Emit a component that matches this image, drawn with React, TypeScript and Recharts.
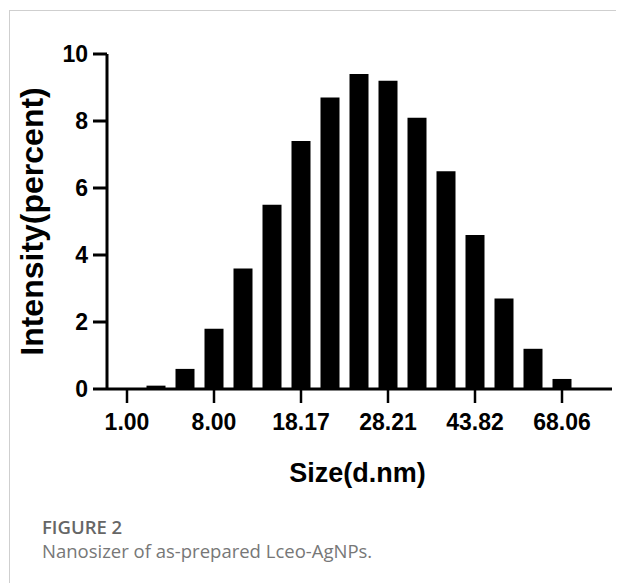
import React from 'react';
import { BarChart, Bar, XAxis, YAxis } from 'recharts';

// intensity (%) per size bin
const intensity = [0, 0.1, 0.6, 1.8, 3.6, 5.5, 7.4, 8.7, 9.4, 9.2, 8.1, 6.5, 4.6, 2.7, 1.2, 0.3];
// labelled bins (every third bin)
const sizeTicks = ['1.00', '8.00', '18.17', '28.21', '43.82', '68.06'];
const yTicks = [0, 2, 4, 6, 8, 10];

const data = intensity.map((v, i) => ({ bin: i, intensity: v }));

const axisFont = '"Liberation Sans", Arial, sans-serif';

const YLabel = ({ viewBox }: any) => {
  const cy = viewBox.y + viewBox.height / 2;
  const cx = 43;
  return (
    <text
      x={cx}
      y={cy}
      transform={`rotate(-90, ${cx}, ${cy})`}
      textAnchor="middle"
      fill="#000"
      fontSize={32}
      fontWeight={700}
      fontFamily={axisFont}
    >
      Intensity(percent)
    </text>
  );
};

export default function App() {
  return (
    <div style={{ position: 'absolute', left: 0, top: 0, width: 617, height: 583, background: '#fff' }}>
      <div
        style={{
          position: 'absolute',
          left: 9,
          top: 10,
          right: 1,
          bottom: 0,
          borderTop: '1px solid #cfcfcf',
          borderLeft: '1px solid #cfcfcf',
        }}
      />
      <div style={{ position: 'absolute', left: 0, top: 0 }}>
        <BarChart width={617} height={500} data={data} margin={{ top: 54, right: 5, bottom: 0, left: 0 }} barCategoryGap={0}>
          <XAxis
            dataKey="bin"
            interval={2}
            height={111}
            padding={{ left: 5.5, right: 35.5 }}
            tickSize={14}
            tickMargin={11}
            axisLine={{ stroke: '#000', strokeWidth: 3 }}
            tickLine={{ stroke: '#000', strokeWidth: 2.5 }}
            tick={{ fill: '#000', fontSize: 23, fontWeight: 700, fontFamily: axisFont }}
            tickFormatter={(v: number) => sizeTicks[v / 3] ?? ''}
            label={{
              value: 'Size(d.nm)',
              position: 'insideBottom',
              offset: 18,
              dx: -2,
              fill: '#000',
              fontSize: 27,
              fontWeight: 700,
              fontFamily: axisFont,
            }}
          />
          <YAxis
            domain={[0, 10]}
            ticks={yTicks}
            width={107}
            tickSize={14}
            tickMargin={5}
            axisLine={{ stroke: '#000', strokeWidth: 3 }}
            tickLine={{ stroke: '#000', strokeWidth: 3 }}
            tick={{ fill: '#000', fontSize: 23, fontWeight: 700, fontFamily: axisFont }}
            label={<YLabel />}
          />
          <Bar dataKey="intensity" fill="#000" barSize={19} isAnimationActive={false} />
        </BarChart>
      </div>
      <div
        style={{
          position: 'absolute',
          left: 42,
          top: 517.6,
          fontFamily: '"Open Sans", sans-serif',
          fontSize: 18.5,
          lineHeight: '18.5px',
          fontWeight: 600,
          color: '#666',
        }}
      >
        FIGURE 2
      </div>
      <div
        style={{
          position: 'absolute',
          left: 42,
          top: 541.6,
          fontFamily: '"Open Sans", sans-serif',
          fontSize: 18.5,
          lineHeight: '18.5px',
          color: '#777',
          whiteSpace: 'nowrap',
        }}
      >
        Nanosizer of as-prepared Lceo-AgNPs.
      </div>
    </div>
  );
}
